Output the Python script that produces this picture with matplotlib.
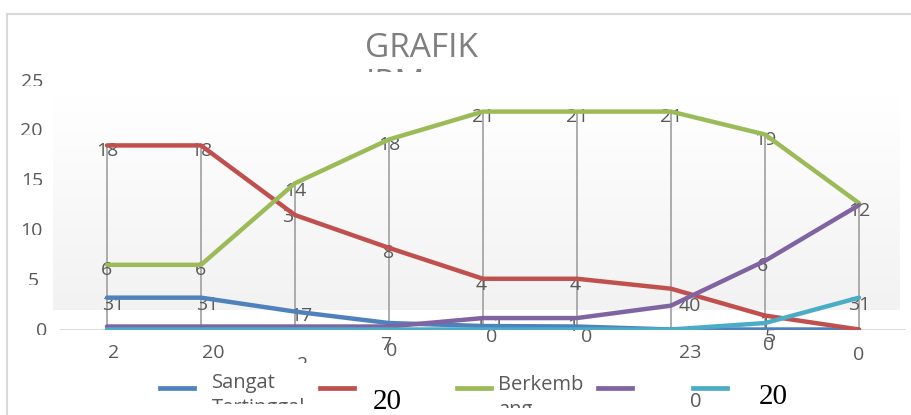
import matplotlib.pyplot as plt
import numpy as np
from matplotlib.lines import Line2D
from matplotlib.transforms import Bbox, TransformedBbox

W, H = 912, 415

categories = ["2", "20", "2", "0", "", "", "23", "0", "0"]

sangat_tertinggal = [3.2, 3.2, 1.8, 0.65, 0.35, 0.3, 0, 0, 0]
tertinggal = [18.5, 18.5, 11.5, 8.2, 5.1, 5.1, 4.1, 1.4, 0]
berkembang = [6.5, 6.5, 14.7, 19.1, 21.9, 21.9, 21.9, 19.6, 12.7]
maju = [0.3, 0.3, 0.3, 0.3, 1.15, 1.15, 2.4, 6.9, 12.5]
mandiri = [0, 0, 0, 0, 0, 0, 0, 0.65, 3.2]

lbl_sangat = ["31", "31", "17", "7", "1", "", "", "", ""]
lbl_tertinggal = ["18", "18", "3", "8", "4", "4", "", "1", ""]
lbl_berkembang = ["6", "6", "14", "18", "21", "21", "21", "19", "12"]
lbl_maju = ["", "", "", "", "1", "1", "40", "6", ""]
lbl_mandiri = ["", "", "", "", "0", "0", "", "5", "31"]

y_ticks = [0, 5, 10, 15, 20, 25]

# label offsets in pixels (dx right, dy down) - messy excel export
off_sangat = [(6, 7), (6, 7), (6, 4), (-3, 22), (15, -1), (0, 0), (0, 0), (0, 0), (0, 0)]
off_tertinggal = [(0, 6), (0, 6), (-7, 2), (0, 5), (-2, 6), (-2, 6), (0, 0), (0, 7), (0, 0)]
off_berkembang = [(0, 5), (0, 5), (0, 8), (0, 6), (0, 5), (0, 5), (0, 5), (0, 6), (0, 8)]
off_maju = [(0, 0)] * 4 + [(-3, 7), (-4, 8), (19, 0), (-2, 5), (0, 0)]
off_mandiri = [(0, 0)] * 4 + [(9, 7), (10, 7), (0, 0), (5, 14), (0, 7)]
tick_off = [(7, 24), (12, 24), (8, 36), (3, 22), (0, 0), (0, 0), (19, 23), (4, 16), (0, 25)]
ytick_dx = [-13, -21, -17, -17, -17, -17]

colors = ["#4F81BD", "#C0504D", "#9BBB59", "#8064A2", "#4BACC6"]
txt_color = "#595959"
font = "Open Sans"

plt.rcParams['font.family'] = [font, 'DejaVu Sans']

fig = plt.figure(figsize=(W / 100, H / 100), dpi=100)


def fbox(x0, y0, x1, y1):
    # image pixel coords (top-left origin) -> clip box
    return TransformedBbox(Bbox([[x0 / W, 1 - y1 / H], [x1 / W, 1 - y0 / H]]), fig.transFigure)


# gradient plot background
bg = fig.add_axes([53 / W, 1 - 310 / H, 847 / W, 213 / H], zorder=0)
grad = np.linspace(1.0, 0.949, 100).reshape(-1, 1)
bg.imshow(np.dstack([grad, grad, grad]), aspect='auto', extent=[0, 1, 0, 1])
bg.axis('off')

ax = fig.add_axes([60 / W, 1 - 329.5 / H, 846 / W, 248.75 / H], zorder=1)
ax.patch.set_alpha(0)
x = np.arange(len(categories))
ax.set_xlim(-0.5, len(categories) - 0.5)
ax.set_ylim(0, 25)
for s in ax.spines.values():
    s.set_visible(False)
ax.set_xticks([])
ax.set_yticks([])
ax.axhline(0, color="#D9D9D9", lw=1.3, zorder=1)

series = [sangat_tertinggal, tertinggal, berkembang, maju, mandiri]
labels = [lbl_sangat, lbl_tertinggal, lbl_berkembang, lbl_maju, lbl_mandiri]
offsets = [off_sangat, off_tertinggal, off_berkembang, off_maju, off_mandiri]

tops = np.max(np.array(series), axis=0)
ax.vlines(x, 0, tops, color="#A6A6A6", lw=1.3, zorder=2)

for vals, c in zip(series, colors):
    ax.plot(x, vals, color=c, lw=3.2, solid_capstyle='round', zorder=3)

for vals, lbls, offs in zip(series, labels, offsets):
    for i, (v, t, (dx, dy)) in enumerate(zip(vals, lbls, offs)):
        if t:
            ax.annotate(t, (i, v), xytext=(dx, -dy), textcoords='offset pixels',
                        ha='center', va='center', fontsize=14, color=txt_color, zorder=2.5)

# category labels
for i, (t, (dx, dy)) in enumerate(zip(categories, tick_off)):
    if t:
        a = ax.annotate(t, (i, 0), xytext=(dx, -dy), textcoords='offset pixels',
                        ha='center', va='center', fontsize=14, color=txt_color)
        if i == 2:
            a.set_clip_box(fbox(0, 0, W, 363))
            a.set_clip_on(True)

# y tick labels, bottoms cut off as in the original
for v, dx in zip(y_ticks, ytick_dx):
    ypix = 329.5 - 9.95 * v
    a = ax.annotate(str(v), (0, v), xycoords=('axes fraction', 'data'), xytext=(dx, -1),
                    textcoords='offset pixels', ha='right', va='center', fontsize=14,
                    color=txt_color)
    a.set_clip_box(fbox(0, 0, W, ypix + 5))
    a.set_clip_on(True)

# title (second line mostly hidden)
fig.text(422 / W, 1 - 57 / H, "GRAFIK", ha='center', va='baseline', fontsize=24, color="#7F7F7F")
t2 = fig.text(366 / W, 1 - 93 / H, "IPM", ha='left', va='baseline', fontsize=24, color="#7F7F7F")
t2.set_clip_box(fbox(0, 0, W, 72))
t2.set_clip_on(True)

# outer chart border
fig.add_artist(Line2D([7 / W, 7 / W], [0, 1 - 14 / H], color="#D9D9D9", lw=1.5, transform=fig.transFigure))
fig.add_artist(Line2D([7 / W, 1], [1 - 14 / H, 1 - 14 / H], color="#D9D9D9", lw=1.5, transform=fig.transFigure))

# legend (clipped by the chart bottom)
handle_x = [160, 320, 457, 598, 693]
for hx, c in zip(handle_x, colors):
    fig.add_artist(Line2D([hx / W, (hx + 34) / W], [1 - 388 / H] * 2, color=c, lw=3.4,
                          transform=fig.transFigure))

fig.text(212 / W, 1 - 383 / H, "Sangat", ha='left', va='center', fontsize=14.5, color=txt_color)
t = fig.text(212 / W, 1 - 413 / H, "Tertinggal", ha='left', va='baseline', fontsize=14.5, color=txt_color)
t.set_clip_box(fbox(0, 0, W, 404))
t.set_clip_on(True)
fig.text(498 / W, 1 - 385 / H, "Berkemb", ha='left', va='center', fontsize=14.5, color=txt_color)
t = fig.text(498 / W, 1 - 415 / H, "ang", ha='left', va='baseline', fontsize=14.5, color=txt_color)
t.set_clip_box(fbox(0, 0, W, 408))
t.set_clip_on(True)
fig.text(696 / W, 1 - 402 / H, "0", ha='center', va='center', fontsize=14.5, color=txt_color)
fig.text(387 / W, 1 - 402 / H, "20", ha='center', va='center', fontsize=21,
         family='Liberation Serif', color="black")
fig.text(773 / W, 1 - 397 / H, "20", ha='center', va='center', fontsize=21,
         family='Liberation Serif', color="black")

fig.savefig("out.png", dpi=100)
